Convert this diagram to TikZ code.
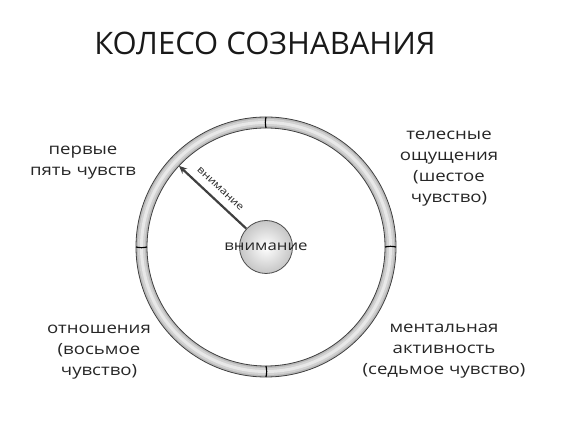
\documentclass[tikz,border=0pt]{standalone}
\usepackage{fontspec}
\setmainfont{Open Sans}
\newfontfamily\handfont{Open Sans}[FakeStretch=1.2]
\usepackage{tikz}
\usetikzlibrary{arrows.meta}
\tikzset{
  sense/.style={align=center, font=\handfont\fontsize{15.5}{21}\selectfont, text=black!85},
  rimline/.style={draw=black!75, line width=0.8pt},
  hubdisc/.style={circle, minimum size=53pt, inner sep=0pt, draw=black!70, line width=0.8pt, shading=radial, inner color=white, outer color=gray!45},
  focus/.style={draw=gray!50!black, line width=2.2pt, -{Stealth[length=8pt,width=7pt]}}
}
\begin{document}
\begin{tikzpicture}[x=1pt,y=1pt]
  \useasboundingbox (0,0) rectangle (569,425);
  \node[font=\fontsize{31}{36}\selectfont, text=black!90] (title) at (265,382) {КОЛЕСО СОЗНАВАНИЯ};
  \begin{scope}[shift={(266,178)}]
    \draw [line width=11pt, gray!55] (0,0) circle (124.5);
    \draw [line width=7pt, gray!35] (0,0) circle (124.5);
    \draw [line width=3pt, gray!18] (0,0) circle (124.5);
    \draw [rimline] (0,0) circle (130);
    \draw [rimline] (0,0) circle (119);
    \foreach \a in {0,90,180,270}
      \draw [rimline, draw=black, line width=1.2pt] (\a:119) to[bend left=12] (\a:130);
    \node[hubdisc, label={[sense, font=\handfont\fontsize{14}{18}\selectfont]center:внимание}] (hub) at (0,0) {};
    \coordinate (rim) at (137:119);
    \draw [focus] (hub) -- (rim) node[midway, sloped, above=4pt, font=\handfont\fontsize{10}{12}\selectfont, text=black!85] {внимание};
  \end{scope}
  \node[sense] (five) at (83,262) {первые\\пять чувств};
  \node[sense] (body) at (449,256) {телесные\\ощущения\\(шестое\\чувство)};
  \node[sense] (rel) at (99,73) {отношения\\(восьмое\\чувство)};
  \node[sense] (mind) at (444,74) {ментальная\\активность\\(седьмое чувство)};
\end{tikzpicture}
\end{document}
